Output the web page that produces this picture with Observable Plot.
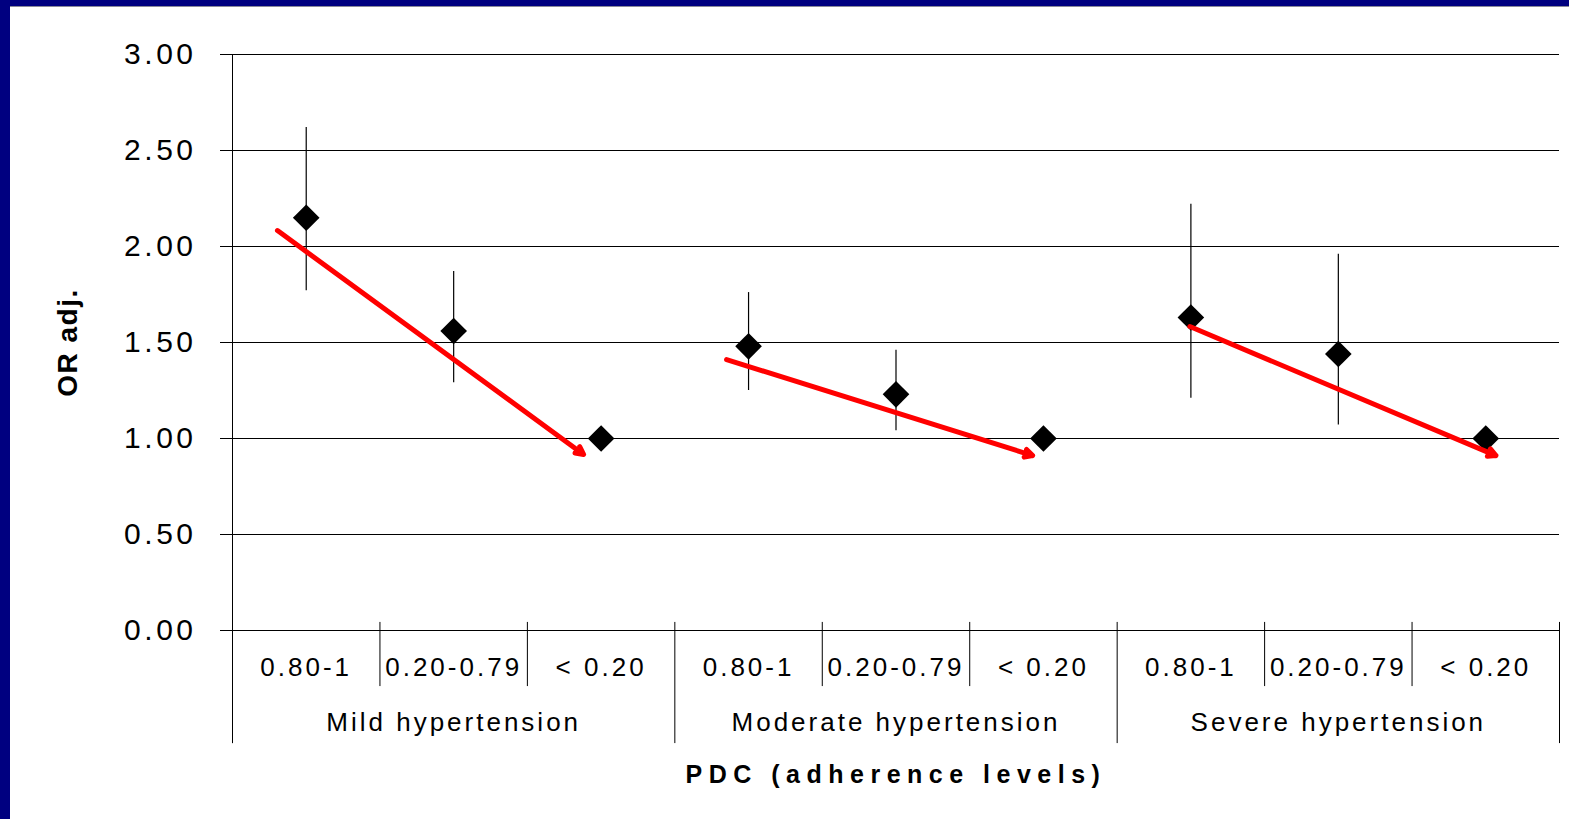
<!DOCTYPE html>
<html><head><meta charset="utf-8">
<script src="https://cdn.jsdelivr.net/npm/d3@7"></script>
<script src="https://cdn.jsdelivr.net/npm/@observablehq/plot@0.6"></script>
<style>
html,body{margin:0;padding:0;background:#fff;}
#wrap{position:relative;width:1569px;height:819px;overflow:hidden;background:#fff;}
#top{position:absolute;left:0;top:0;width:1569px;height:6px;background:#000080;border-bottom:1px solid #8a8a9a;}
#left{position:absolute;left:0;top:0;width:10px;height:819px;background:#000080;}
#chart{position:absolute;left:0;top:0;}
</style></head><body>
<div id="wrap"><div id="chart"></div><div id="top"></div><div id="left"></div></div>
<script>
// ---- data ----
const groups = ["Mild hypertension", "Moderate hypertension", "Severe hypertension"];
const levels = ["0.80-1", "0.20-0.79", "< 0.20"];
const orAdj  = [2.15, 1.56, 1.00,  1.48, 1.23, 1.00,  1.63, 1.44, 1.00];
const ciLow  = [1.77, 1.29, null,  1.25, 1.04, null,  1.21, 1.07, null];
const ciHigh = [2.62, 1.87, null,  1.76, 1.46, null,  2.22, 1.96, null];
const yTicks = [0, 0.5, 1, 1.5, 2, 2.5, 3];
// trend arrows (start / end in category-index and OR units)
const trendX1 = [-0.195, 2.851, 5.993];
const trendY1 = [2.083, 1.411, 1.583];
const trendX2 = [1.881, 4.927, 8.069];
const trendY2 = [0.917, 0.911, 0.911];
const xTitle = "PDC (adherence levels)";
const yTitle = "OR adj.";

const rows = orAdj.map((v, i) => ({
  i, level: levels[i % 3], group: groups[Math.floor(i / 3)], or: v, lo: ciLow[i], hi: ciHigh[i]
}));
const trends = trendX1.map((x1, k) => ({x1, y1: trendY1[k], x2: trendX2[k], y2: trendY2[k]}));
const bounds = d3.range(rows.length + 1).map(k => ({x: k - 0.5, major: k % 3 === 0}));
const below = -0.589;   // bottom of group separators (in y units)
const belowMinor = -0.292;
const above = 0.042;

const plot = Plot.plot({
  width: 1569, height: 819,
  marginLeft: 232, marginRight: 10, marginTop: 54, marginBottom: 189,
  style: {fontFamily: "'Liberation Sans', Arial, sans-serif", background: "transparent", color: "#000", overflow: "visible"},
  x: {type: "linear", domain: [-0.5, 8.5], axis: null},
  y: {domain: [0, 3], axis: null},
  marks: [
    Plot.gridY(yTicks, {stroke: "#000", strokeOpacity: 1, strokeWidth: 1}),
    Plot.axisY(yTicks, {tickSize: 12, tickPadding: 24, tickFormat: d3.format(".2f"), fontSize: 30, stroke: "#000", color: "#000"}),
    Plot.ruleX([-0.5], {y1: 3, y2: below, stroke: "#000"}),
    Plot.ruleX(bounds, {x: "x", y1: above, y2: d => d.major ? below : belowMinor, stroke: "#000"}),
    Plot.text(rows, {x: "i", y: 0, text: "level", dy: 37, fontSize: 26, fill: "#000"}),
    Plot.text(groups, {x: (d, k) => k * 3 + 1, y: 0, text: d => d, dy: 92, fontSize: 26, fill: "#000"}),
    Plot.text([xTitle], {x: 4, y: 0, text: d => d, dy: 144, fontSize: 25, fontWeight: "bold", fill: "#000"}),
    Plot.text([yTitle], {frameAnchor: "left", text: d => d, rotate: -90, dx: -164, textAnchor: "middle", fontSize: 28, fontWeight: "bold", fill: "#000"}),
    Plot.ruleX(rows.filter(d => d.lo != null), {x: "i", y1: "lo", y2: "hi", stroke: "#000", strokeWidth: 1.2}),
    Plot.dot(rows, {x: "i", y: "or", symbol: "diamond2", r: 12, fill: "#000", stroke: "none"}),
    Plot.arrow(trends, {x1: "x1", y1: "y1", x2: "x2", y2: "y2", stroke: "#ff0000", strokeWidth: 5, headLength: 2.6, headAngle: 55})
  ]
});
plot.querySelectorAll('g[aria-label="y-axis tick label"]').forEach(g => g.style.letterSpacing = "3.5px");
plot.querySelectorAll('g[aria-label="text"]').forEach(g => {
  const bold = g.getAttribute("font-weight") === "bold";
  const fs = g.getAttribute("font-size");
  g.style.letterSpacing = bold ? (fs === "25" ? "6.5px" : "1.5px") : "3px";
});
document.getElementById("chart").appendChild(plot);
</script>
</body></html>
